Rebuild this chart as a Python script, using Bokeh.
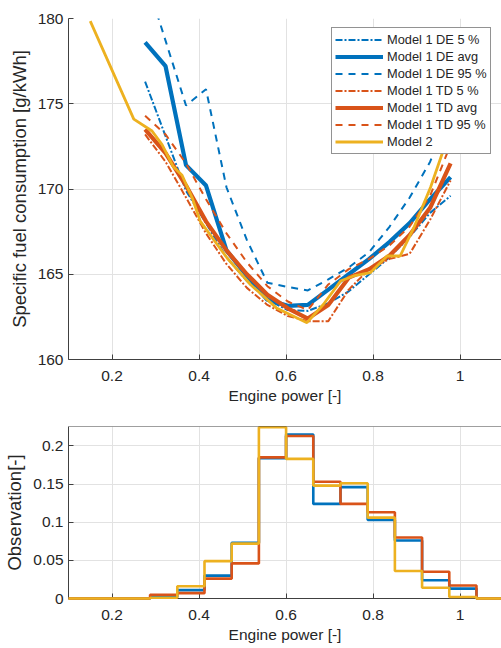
from bokeh.plotting import figure
from bokeh.layouts import column
from bokeh.models import FixedTicker, Legend, LegendItem, Range1d, Span
from bokeh.embed import file_html
from bokeh.resources import INLINE

# ---------------- data ----------------
x_m1 = [0.276, 0.323, 0.370, 0.416, 0.463, 0.510, 0.557, 0.604, 0.650, 0.697,
        0.744, 0.791, 0.838, 0.884, 0.931, 0.978]
de_5 = [176.3, 173.1, 169.9, 168.0, 166.0, 164.6, 163.5, 162.9, 162.85, 163.3,
        164.0, 165.0, 166.0, 167.2, 168.6, 169.6]
de_avg = [178.6, 177.2, 171.4, 170.2, 166.4, 164.9, 163.5, 163.15, 163.2, 164.1,
          165.0, 165.9, 166.9, 168.0, 169.4, 170.7]
de_95 = [182.5, 178.7, 174.9, 175.85, 170.1, 167.0, 164.5, 164.25, 164.05, 164.7,
         165.4, 166.3, 167.8, 169.5, 171.6, 174.5]
td_5 = [173.2, 171.6, 169.5, 167.4, 165.6, 164.2, 163.2, 162.55, 162.25, 162.25,
        164.1, 165.3, 165.9, 166.2, 168.2, 170.5]
td_avg = [173.5, 172.1, 170.2, 168.1, 166.4, 165.0, 163.8, 163.0, 162.4, 163.2,
          164.8, 165.3, 166.1, 167.3, 168.9, 171.5]
td_95 = [174.3, 173.2, 171.5, 169.4, 167.4, 165.7, 164.3, 163.4, 162.9, 164.4,
         165.3, 165.9, 166.7, 167.8, 169.6, 172.6]

x_m2 = [0.150, 0.250, 0.292, 0.315, 0.341, 0.361, 0.384, 0.403, 0.464, 0.518,
        0.579, 0.648, 0.686, 0.725, 0.755, 0.794, 0.832, 0.862, 0.893, 0.932, 0.978]
m2 = [179.85, 174.1, 173.4, 172.6, 171.3, 170.8, 169.5, 168.1, 165.97, 164.4,
      163.0, 162.16, 163.24, 164.6, 164.9, 165.1, 166.07, 166.07, 167.7, 170.1, 173.5]

bin_edges = [0.1 + 0.0625 * i for i in range(17)]
hist_de = [0, 0, 0, 0.002, 0.011, 0.030, 0.073, 0.184, 0.215, 0.124, 0.146,
           0.103, 0.076, 0.024, 0.013, 0]
hist_td = [0, 0, 0, 0.005, 0.007, 0.026, 0.046, 0.185, 0.213, 0.153, 0.124,
           0.113, 0.080, 0.035, 0.017, 0]
hist_m2 = [0, 0, 0, 0.001, 0.016, 0.049, 0.072, 0.2245, 0.183, 0.148, 0.151,
           0.106, 0.036, 0.014, 0.002, 0]

x_ticks = [0.2, 0.4, 0.6, 0.8, 1.0]
x_tick_labels = ["0.2", "0.4", "0.6", "0.8", "1"]
y1_ticks = [160, 165, 170, 175, 180]
y2_ticks = [0, 0.05, 0.1, 0.15, 0.2]
y2_tick_labels = ["0", "0.05", "0.1", "0.15", "0.2"]

labels = ["Model 1 DE 5 %", "Model 1 DE avg", "Model 1 DE 95 %",
          "Model 1 TD 5 %", "Model 1 TD avg", "Model 1 TD 95 %", "Model 2"]

# ---------------- style ----------------
FONT = "Liberation Sans"
TXT = "#262626"
AX = "#404040"
GRID = "#e2e2e2"
BLUE = "#0072BD"
RED = "#D95319"
YEL = "#EDB120"
TICK_FS = "15.5px"
XLAB_FS = "15.5px"
YLAB_FS = "18.5px"
DASH = "7 6"
DASHDOT = "7 2 2 2"


def style(p, yticks, ylabels=None):
    p.outline_line_color = None
    for ax in p.xaxis + p.yaxis:
        ax.axis_line_color = AX
        ax.major_tick_line_color = AX
        ax.major_tick_in = 5
        ax.major_tick_out = 0
        ax.minor_tick_line_color = None
        ax.major_label_text_font = FONT
        ax.major_label_text_font_size = TICK_FS
        ax.major_label_text_color = TXT
        ax.axis_label_text_font = FONT
        ax.axis_label_text_font_style = "normal"
        ax.axis_label_text_color = TXT
    p.xaxis.ticker = FixedTicker(ticks=x_ticks)
    p.xaxis.major_label_overrides = {t: l for t, l in zip(x_ticks, x_tick_labels)}
    p.xaxis.major_label_standoff = 11
    p.xaxis.axis_label_standoff = 3
    p.xaxis.axis_label_text_font_size = XLAB_FS
    p.yaxis.ticker = FixedTicker(ticks=yticks)
    if ylabels:
        p.yaxis.major_label_overrides = {t: l for t, l in zip(yticks, ylabels)}
    p.yaxis.major_label_standoff = 5
    p.yaxis.axis_label_standoff = 5
    p.yaxis.axis_label_text_font_size = YLAB_FS
    p.xgrid.ticker = FixedTicker(ticks=x_ticks)
    p.ygrid.ticker = FixedTicker(ticks=yticks)
    for g in p.xgrid + p.ygrid:
        g.grid_line_color = GRID
        g.grid_line_width = 1


XEND = 1.095

# ---------------- top figure ----------------
p1 = figure(width=501, height=410, x_range=Range1d(0.1, XEND),
            y_range=Range1d(160, 180), output_backend="svg",
            toolbar_location=None, min_border_left=68, min_border_right=0,
            min_border_top=18, min_border_bottom=51,
            x_axis_label="Engine power [-]",
            y_axis_label="Specific fuel consumption [g/kWh]")
style(p1, y1_ticks)

r = []
r.append(p1.line(x_m1, de_5, line_color=BLUE, line_width=2, line_dash=DASHDOT))
r.append(p1.line(x_m1, de_avg, line_color=BLUE, line_width=4.2))
r.append(p1.line(x_m1, de_95, line_color=BLUE, line_width=2, line_dash=DASH))
r.append(p1.line(x_m1, td_5, line_color=RED, line_width=2, line_dash=DASHDOT))
r.append(p1.line(x_m1, td_avg, line_color=RED, line_width=4.2))
r.append(p1.line(x_m1, td_95, line_color=RED, line_width=2, line_dash=DASH))
r.append(p1.line(x_m2, m2, line_color=YEL, line_width=2.8))

legend = Legend(items=[LegendItem(label=l, renderers=[rr]) for l, rr in zip(labels, r)],
                location=(263, 205))
legend.label_text_font = FONT
legend.label_text_font_size = "12.8px"
legend.label_text_color = TXT
legend.border_line_color = TXT
legend.border_line_width = 1
legend.background_fill_color = "white"
legend.background_fill_alpha = 1
legend.glyph_width = 48
legend.glyph_height = 17
legend.label_height = 17
legend.label_standoff = 4
legend.padding = 3
legend.spacing = 0
legend.margin = 0
p1.add_layout(legend, "center")

# ---------------- bottom figure ----------------
p2 = figure(width=501, height=238, x_range=Range1d(0.1, XEND),
            y_range=Range1d(0, 0.2255), output_backend="svg",
            toolbar_location=None, min_border_left=68, min_border_right=0,
            min_border_top=16, min_border_bottom=50,
            x_axis_label="Engine power [-]", y_axis_label="Observation[-]")
style(p2, y2_ticks, y2_tick_labels)

top_border = Span(location=0.2255, dimension="width", line_color=AX, line_width=1)
p2.add_layout(top_border)

for vals, col in [(hist_de, BLUE), (hist_td, RED), (hist_m2, YEL)]:
    st = p2.step(bin_edges, vals + [vals[-1]], mode="after", line_color=col, line_width=2.6)
    st.level = "annotation"

layout = column(p1, p2, spacing=0)
open("out.html", "w").write(file_html(layout, INLINE))
